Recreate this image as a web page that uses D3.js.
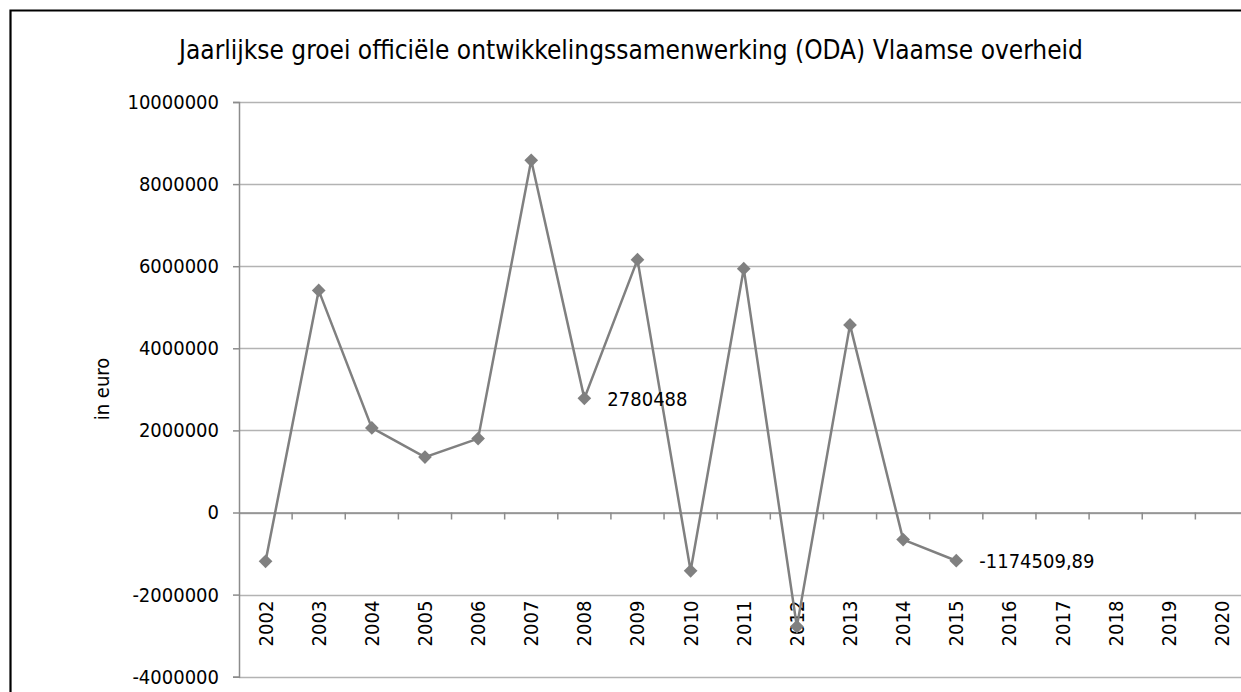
<!DOCTYPE html>
<html>
<head>
<meta charset="utf-8">
<script src="https://cdn.jsdelivr.net/npm/d3@7"></script>
<style>
  html, body { margin: 0; padding: 0; background: #fff; }
  svg { display: block; }
  text { font-family: "DejaVu Sans Condensed", "DejaVu Sans", sans-serif; font-stretch: condensed; fill: #000; }
</style>
</head>
<body>
<svg id="chart" width="1241" height="692"></svg>
<script>
const years = ["2002","2003","2004","2005","2006","2007","2008","2009","2010","2011","2012","2013","2014","2015","2016","2017","2018","2019","2020"];
const growth = [-1190000, 5410000, 2060000, 1350000, 1800000, 8580000, 2780488, 6160000, -1420000, 5940000, -2780000, 4570000, -660000, -1174509.89];
const yTicks = [-4000000, -2000000, 0, 2000000, 4000000, 6000000, 8000000, 10000000];
const labelled = { "2008": "2780488", "2015": "-1174509,89" };
const title = "Jaarlijkse groei officiële ontwikkelingssamenwerking (ODA) Vlaamse overheid";
const yTitle = "in euro";

const svg = d3.select("#chart");
const m = { left: 239, top: 102, right: 1248.5, bottom: 676.7 };

// frame
svg.append("path").attr("d", `M10.5,700 V10.5 H1250`).attr("fill", "none").attr("stroke", "#000").attr("stroke-width", 2.2);

const x = d3.scaleBand().domain(years).range([m.left, m.right]).padding(0);
const y = d3.scaleLinear().domain([-4000000, 10000000]).range([m.bottom, m.top]);
const fmt = d => String(d);

// gridlines
svg.append("g").selectAll("line").data(yTicks).join("line")
  .attr("x1", m.left).attr("x2", m.right)
  .attr("y1", d => Math.round(y(d)) + 0.5).attr("y2", d => Math.round(y(d)) + 0.5)
  .attr("stroke", "#b3b3b3").attr("stroke-width", 1.5);

// y axis
const yAxis = svg.append("g").attr("transform", `translate(${m.left},0)`)
  .call(d3.axisLeft(y).tickValues(yTicks).tickSize(6).tickPadding(14).tickFormat(fmt));
yAxis.select(".domain").attr("stroke", "#8c8c8c").attr("stroke-width", 1.5);
yAxis.selectAll(".tick line").attr("stroke", "#8c8c8c").attr("stroke-width", 1.5);
yAxis.selectAll("text").attr("font-size", 20).attr("font-family", null).attr("fill", "#000");

// x axis at zero
const xAxis = svg.append("g").attr("transform", `translate(0,${y(0)})`)
  .call(d3.axisBottom(x).tickSize(0).tickFormat(""));
xAxis.select(".domain").attr("stroke", "#8c8c8c").attr("stroke-width", 1.5);
// ticks between categories
svg.append("g").selectAll("line").data(years.slice(1)).join("line")
  .attr("x1", d => x(d)).attr("x2", d => x(d))
  .attr("y1", y(0)).attr("y2", y(0) + 7)
  .attr("stroke", "#8c8c8c").attr("stroke-width", 1.5);

// category labels (low position)
svg.append("g").selectAll("text").data(years).join("text")
  .attr("transform", d => `translate(${x(d) + x.bandwidth() / 2 + 7},${y(-2000000) + 6}) rotate(-90)`)
  .attr("text-anchor", "end")
  .attr("font-size", 20)
  .text(d => d);

// line
const pts = growth.map((v, i) => ({ year: years[i], v }));
svg.append("path").datum(pts)
  .attr("d", d3.line().x(d => x(d.year) + x.bandwidth() / 2).y(d => y(d.v)))
  .attr("fill", "none").attr("stroke", "#808080").attr("stroke-width", 2.5);

// markers
svg.append("g").selectAll("path").data(pts).join("path")
  .attr("transform", d => `translate(${x(d.year) + x.bandwidth() / 2},${y(d.v)})`)
  .attr("d", d3.symbol(d3.symbolDiamond2, 120)())
  .attr("fill", "#808080");

// data labels
svg.append("g").selectAll("text").data(pts.filter(d => labelled[d.year])).join("text")
  .attr("x", d => x(d.year) + x.bandwidth() / 2 + 23)
  .attr("y", d => y(d.v))
  .attr("dy", "0.36em")
  .attr("font-size", 20)
  .text(d => labelled[d.year]);

// title
svg.append("text").attr("x", 631).attr("y", 59).attr("text-anchor", "middle")
  .attr("font-size", 26).text(title);

// y title
svg.append("text").attr("transform", `translate(102,389) rotate(-90)`)
  .attr("text-anchor", "middle").attr("dy", "0.35em").attr("font-size", 20).text(yTitle);
</script>
</body>
</html>
